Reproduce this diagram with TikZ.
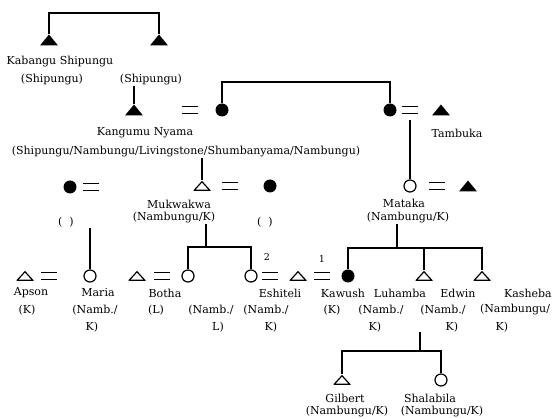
\documentclass[tikz,border=0pt]{standalone}
\usepackage{fontspec}
\setmainfont{DejaVu Serif}
\begin{document}
\begin{tikzpicture}[x=1pt,y=-1pt,line width=1.2pt,
  lbl/.style={inner sep=0pt,font=\fontsize{11}{13}\selectfont},
  num/.style={inner sep=0pt,font=\fontsize{9.5}{11}\selectfont},
  eqs/.style={inner sep=0pt,minimum width=14pt,minimum height=6pt,
    append after command={(\tikzlastnode.north west) edge (\tikzlastnode.north east)
      (\tikzlastnode.south west) edge (\tikzlastnode.south east)}},
  ftri/.style={inner sep=0pt,minimum width=18pt,minimum height=11pt,
    path picture={\fill (path picture bounding box.south west) -- (path picture bounding box.north) -- (path picture bounding box.south east) -- cycle;}},
  otri/.style={inner sep=0pt,minimum width=17pt,minimum height=10pt,
    path picture={\draw ([xshift=0.7pt,yshift=0.7pt]path picture bounding box.south west) -- ([yshift=-0.7pt]path picture bounding box.north) -- ([xshift=-0.7pt,yshift=0.7pt]path picture bounding box.south east) -- cycle;}},
  fcir/.style={circle,fill,inner sep=0pt,minimum size=13pt},
  ocir/.style={circle,draw,inner sep=0pt,minimum size=12pt}]
\useasboundingbox (0,0) rectangle (555,419);
% top generation
\node[ftri] (a1) at (49,40) {};
\node[ftri] (a2) at (159,40) {};
\coordinate (top) at (100,13);
\draw (a1.north) |- (top) -| (a2.north);
\node[lbl] (kab) at (60,62) {Kabangu Shipungu};
\node[lbl] (sh1) at (52,80) {(Shipungu)};
\node[lbl] (sh2) at (151,80) {(Shipungu)};
% second generation
\node[ftri] (kang) at (134,110) {};
\draw (kang.north) -- (kang.north |- sh2.south);
\node[eqs] (e1) at (190,110) {};
\node[fcir] (c1) at (222,110) {};
\node[fcir] (c2) at (390,110) {};
\coordinate (sis) at (300,82);
\draw (c1.north) |- (sis) -| (c2.north);
\node[eqs] (e2) at (410,110) {};
\node[ftri] (tam) at (441,110) {};
\node[lbl] (taml) at (457,133) {Tambuka};
\node[lbl] (kangl) at (145,133) {Kangumu Nyama};
\node[lbl] (long) at (186,152) {(Shipungu/Nambungu/Livingstone/Shumbanyama/Nambungu)};
% third generation
\node[fcir] (lc) at (70,187) {};
\node[eqs] (e3) at (91,187) {};
\node[lbl] (lcl) at (66,222) {(\ \ )};
\node[otri] (muk) at (202,186) {};
\draw (muk.north) -- (muk.north |- long.south);
\node[eqs] (e4) at (230,186) {};
\node[fcir] (mc) at (270,186) {};
\node[lbl] (mcl) at (265,222) {(\ \ )};
\node[lbl] (mukl) at (179,204) {Mukwakwa};
\node[lbl] (mukl2) at (174,218) {(Nambungu/K)};
\node[ocir] (mat) at (410,186) {};
\draw ([yshift=-6pt]e2.south) -- (mat.north);
\node[eqs] (e5) at (437,186) {};
\node[ftri] (mh) at (468,186) {};
\node[lbl] (matl) at (404,203) {Mataka};
\node[lbl] (matl2) at (408,218) {(Nambungu/K)};
% fourth generation
\node[otri] (aps) at (25,276) {};
\node[eqs] (e6) at (49,276) {};
\node[ocir] (mar) at (90,276) {};
\draw (mar.north) -- (mar.north |- lcl.south);
\node[otri] (bot) at (137,276) {};
\node[eqs] (e7) at (162,276) {};
\node[ocir] (cb) at (188,276) {};
\node[ocir] (esh) at (251,276) {};
\coordinate (mk) at (206,247);
\draw (cb.north) |- (mk) -| (esh.north);
\draw (mk) -- (mk |- mukl2.south);
\node[eqs] (e8) at (270,276) {};
\node[num] at (267,257) {2};
\node[otri] (hus) at (298,276) {};
\node[eqs] (e9) at (322,276) {};
\node[num] at (322,259) {1};
\node[fcir] (kaw) at (348,276) {};
\node[otri] (luh) at (424,276) {};
\node[otri] (edw) at (482,276) {};
\coordinate (mt) at (397,248);
\draw (kaw.north) |- (mt) -| (edw.north);
\draw (luh.north) -- (luh.north |- mt);
\draw (mt) -- (mt |- matl2.south);
% labels of fourth generation
\node[lbl] at (31,293) {Apson};
\node[lbl] at (27,310) {(K)};
\node[lbl] at (98,293) {Maria};
\node[lbl] at (95,310) {(Namb./};
\node[lbl] at (92,327) {K)};
\node[lbl] at (165,293) {Botha};
\node[lbl] at (156,310) {(L)};
\node[lbl] at (211,310) {(Namb./};
\node[lbl] at (218,327) {L)};
\node[lbl] at (280,293) {Eshiteli};
\node[lbl] at (266,310) {(Namb./};
\node[lbl] at (271,327) {K)};
\node[lbl] at (343,293) {Kawush};
\node[lbl] at (332,310) {(K)};
\node[lbl] at (400,293) {Luhamba};
\node[lbl] at (381,310) {(Namb./};
\node[lbl] at (375,327) {K)};
\node[lbl] at (458,293) {Edwin};
\node[lbl] at (443,310) {(Namb./};
\node[lbl] (edk) at (452,327) {K)};
\node[lbl] at (528,293) {Kasheba};
\node[lbl] at (515,310) {(Nambungu/};
\node[lbl] at (502,327) {K)};
% fifth generation
\coordinate (gt) at (420,332);
\coordinate (gs) at (420,351);
\node[otri] (gil) at (342,380) {};
\node[ocir] (sha) at (441,380) {};
\draw (gil.north) |- (gs) -| (sha.north);
\draw (gs) -- (gt);
\node[lbl] at (345,398) {Gilbert};
\node[lbl] at (347,412) {(Nambungu/K)};
\node[lbl] at (430,398) {Shalabila};
\node[lbl] at (442,412) {(Nambungu/K)};
\end{tikzpicture}
\end{document}
